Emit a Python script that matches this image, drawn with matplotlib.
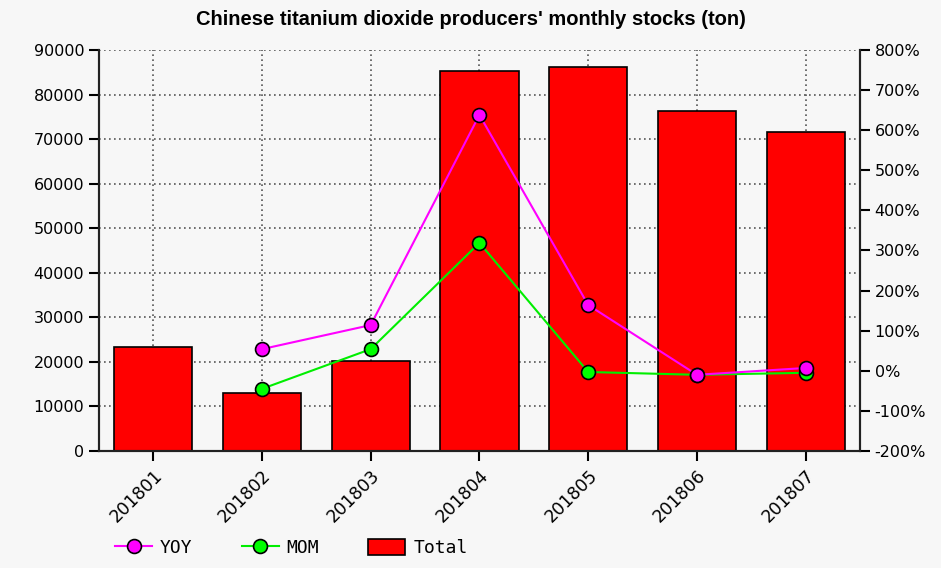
import matplotlib
matplotlib.use("Agg")
import matplotlib.pyplot as plt
import numpy as np
from matplotlib.ticker import FuncFormatter

months = ["201801", "201802", "201803", "201804", "201805", "201806", "201807"]
total = [23300, 13000, 20200, 85200, 86100, 76200, 71700]
yoy = [None, 54, 114, 638, 164, -10, 7]
mom = [None, -45, 54, 319, -3, -10, -5]

bg = "#f7f7f7"
fig = plt.figure(figsize=(9.41, 5.68), dpi=100, facecolor=bg)
ax = fig.add_axes([0.105, 0.206, 0.809, 0.706], facecolor=bg)
ax2 = ax.twinx()

x = np.arange(len(months))
bars = ax.bar(x, total, width=0.72, color="#ff0000", edgecolor="black", linewidth=1.2, zorder=2, label="Total")

ax.set_xlim(-0.5, len(months) - 0.5)
ax.set_ylim(0, 90000)
ax.set_yticks(np.arange(0, 90001, 10000))
ax.set_xticks(x)
ax.set_xticklabels(months, rotation=45, ha="right", va="top", rotation_mode="anchor", fontsize=12.5)
ax.tick_params(axis="y", labelsize=11.5, length=7, width=1.5, direction="out")
ax.tick_params(axis="x", length=7, width=1.5, direction="out", pad=4)
ax.grid(True, linestyle=(0, (1, 2)), color="#555555", linewidth=1.2, zorder=0)
ax.set_axisbelow(True)

ax2.set_ylim(-200, 800)
ax2.set_yticks(np.arange(-200, 801, 100))
ax2.yaxis.set_major_formatter(FuncFormatter(lambda v, p: f"{int(v)}%"))
ax2.tick_params(axis="y", labelsize=11.5, length=7, width=1.5, direction="out")

xy = [i for i, v in enumerate(yoy) if v is not None]
yy = [v for v in yoy if v is not None]
xm = [i for i, v in enumerate(mom) if v is not None]
ym = [v for v in mom if v is not None]
l2, = ax2.plot(xm, ym, color="#00ee00", linewidth=1.5, marker="o", markersize=10,
               markerfacecolor="#00ff00", markeredgecolor="black", markeredgewidth=1.2, label="MOM", zorder=3)
l1, = ax2.plot(xy, yy, color="#ff00ff", linewidth=1.5, marker="o", markersize=10,
               markerfacecolor="#ff00ff", markeredgecolor="black", markeredgewidth=1.2, label="YOY", zorder=4)

for a in (ax, ax2):
    a.spines["top"].set_visible(False)
    for s in ("left", "right", "bottom"):
        a.spines[s].set_linewidth(1.5)
        a.spines[s].set_color("#222222")

fig.text(0.5, 0.966, "Chinese titanium dioxide producers' monthly stocks (ton)",
         ha="center", va="center", fontsize=14.5, fontweight="bold", family="Liberation Sans")

leg = fig.legend([l1, l2, bars], ["YOY", "MOM", "Total"], loc="center left",
                 bbox_to_anchor=(115 / 941, 1 - 548 / 568), ncol=3, frameon=False,
                 prop={"family": "DejaVu Sans Mono", "size": 13},
                 handlelength=2.05, handleheight=0.95, columnspacing=2.7, handletextpad=0.45,
                 borderpad=0, borderaxespad=0)
fig.savefig("out.png", dpi=100, facecolor=bg)
